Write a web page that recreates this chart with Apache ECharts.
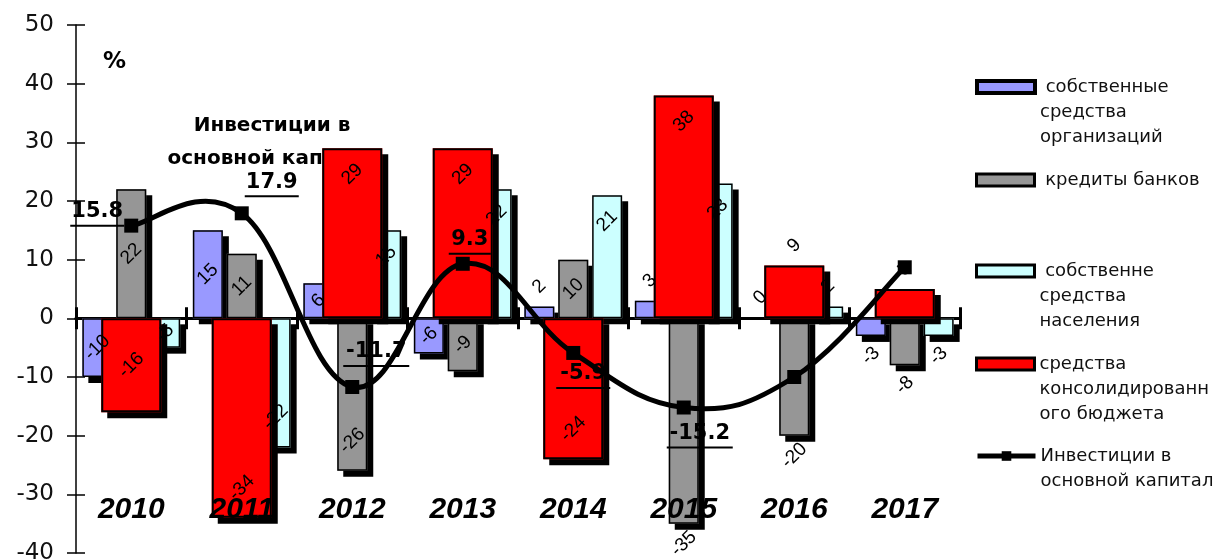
<!DOCTYPE html>
<html><head><meta charset="utf-8">
<script src="https://cdn.jsdelivr.net/npm/echarts@6/dist/echarts.min.js"></script>
<style>html,body{margin:0;padding:0;background:#fff}#c{width:1218px;height:560px}</style>
</head><body><div id="c"></div>
<script>
// ---- data ----
const years = ['2010','2011','2012','2013','2014','2015','2016','2017'];
const ownFunds        = [-10, 15,   6, -6,   2,   3,   0, -3];
const bankCredits     = [ 22, 11, -26, -9,  10, -35, -20, -8];
const populationFunds = [ -5,-22,  15, 22,  21,  23,   2, -3];
const budgetFunds     = [-16,-34,  29, 29, -24,  38,   9,  5];
const investment      = [15.8, 17.9, -11.7, 9.3, -5.9, -15.2, -10, 8.7];
const investLabelShown = [true, true, true, true, true, true, false, false];
const yMin = -40, yMax = 50, yStep = 10;

const nameOwn = ' собственные\nсредства\nорганизаций';
const nameCredit = ' кредиты банков';
const namePop = ' собственне\nсредства\nнаселения';
const nameBudget = 'средства\nконсолидированн\nого бюджета';
const nameInvest = 'Инвестиции в\nосновной капитал';

// ---- styling helpers ----
const FONT = 'Liberation Sans, Arial, sans-serif';
const WIDE = 'DejaVu Sans, sans-serif';
const ROT = 45;
const investLabelOffsets = [[-34,-12],[30,-29],[24,-33],[7,-22],[10,23],[16,28],[0,0],[0,0]];

// offset that moves a rotated label straight down by d pixels on screen
function vOff(d) {
  const t = ROT * Math.PI / 180;
  return [-d * Math.sin(t), d * Math.cos(t)];
}
function barLabel(v, mode) {
  if (mode === 'out') {
    return v >= 0 ? {position:['50%',0], offset:vOff(-20)} : {position:['50%','100%'], offset:vOff(20)};
  }
  if (mode === 'end') {
    return v >= 0 ? {position:['50%',0], offset:vOff(26)} : {position:['50%','100%'], offset:vOff(-30)};
  }
  return {position:'inside'};
}
function buildBarData(values, modeFn) {
  return values.map((v, i) => ({value: v, label: barLabel(v, modeFn(v, i))}));
}
const ownMode = (v) => Math.abs(v) < 5 ? 'out' : 'center';
const creditMode = (v, i) => (i >= 5 ? 'out' : (v <= -20 ? 'end' : 'center'));
const popMode = (v) => Math.abs(v) < 10 ? (Math.abs(v) < 4 ? 'out' : 'center') : 'end';
const budgetMode = (v) => Math.abs(v) < 10 ? 'out' : ((v > 0 || v <= -20) ? 'end' : 'center');

// fill layer (with hard shadow, no border)
function fillSeries(name, values, color, axis, width) {
  return {
    type: 'bar', name: name, xAxisIndex: axis, barWidth: width, barGap: '13%',
    data: values.slice(),
    itemStyle: {color: color, borderWidth: 0, shadowColor:'#000', shadowBlur:0, shadowOffsetX:6, shadowOffsetY:6},
    label: {show:false}, emphasis: {disabled:true}, silent: true
  };
}
// outline layer (border + labels, no shadow)
function outlineSeries(name, values, modeFn, axis, width, bw) {
  return {
    type: 'bar', name: name, xAxisIndex: axis, barWidth: width, barGap: '13%',
    data: buildBarData(values, modeFn),
    itemStyle: {color: 'rgba(0,0,0,0)', borderColor:'#000', borderWidth: bw},
    label: {show:true, rotate:ROT, fontSize:19, fontFamily:FONT, color:'#000', align:'center', verticalAlign:'middle'},
    emphasis: {disabled:true}
  };
}

const investData = investment.map((v, i) => {
  const txt = String(v);
  const d = {value: v};
  if (investLabelShown[i]) {
    d.label = {
      show: true, position: 'inside', offset: investLabelOffsets[i],
      formatter: '{v|' + txt + '}\n{u|}',
      rich: {
        v: {fontSize:21, fontWeight:'bold', fontFamily:WIDE, color:'#000', lineHeight:24, align:'center'},
        u: {width: txt.length*12+6, height:2, backgroundColor:'#000', lineHeight:4, align:'center'}
      }
    };
  } else {
    d.label = {show:false};
  }
  return d;
});

function legendFor(name, centerY, lines, extra) {
  const lh = 25;
  const h = (2*lines-1)*lh;
  const pre = '\n'.repeat(lines-1);
  return {
    left: 975, top: centerY - h/2, padding: 0, itemWidth: 58, itemHeight: 12,
    selectedMode: false,
    data: [Object.assign({name: name}, extra)],
    formatter: (n) => pre + n,
    textStyle: {fontFamily: WIDE, fontSize: 18, color:'#111', lineHeight: lh}
  };
}

function hiddenX() {
  return {type:'category', data: years, show:false};
}
function zeroAxis(pos) {
  return {
    type: 'category', data: years, position: pos,
    axisLine: {show:true, onZero: true, lineStyle: {color:'#000', width:3}},
    axisTick: {show:true, length:11, lineStyle:{color:'#000', width:3}},
    axisLabel: {show:false},
    splitLine: {show:false}
  };
}

// Excel-like smoothed curve through the investment points (Catmull-Rom style bezier)
function renderCurve(params, api) {
  if (params.dataIndex !== 0) return null;
  const pts = investment.map((v, i) => api.coord([i, v]));
  const k = 0.2;
  let d = 'M' + pts[0][0] + ',' + pts[0][1];
  for (let i = 0; i < pts.length - 1; i++) {
    const p0 = pts[Math.max(i - 1, 0)], p1 = pts[i], p2 = pts[i + 1], p3 = pts[Math.min(i + 2, pts.length - 1)];
    const c1 = [p1[0] + (p2[0] - p0[0]) * k, p1[1] + (p2[1] - p0[1]) * k];
    const c2 = [p2[0] - (p3[0] - p1[0]) * k, p2[1] - (p3[1] - p1[1]) * k];
    d += ' C' + c1[0] + ',' + c1[1] + ' ' + c2[0] + ',' + c2[1] + ' ' + p2[0] + ',' + p2[1];
  }
  return {type:'path', shape:{pathData:d}, style:{fill:'none', stroke:'#000', lineWidth:5, lineJoin:'round'}, silent:true};
}

const chart = echarts.init(document.getElementById('c'));
chart.setOption({
  animation: false,
  backgroundColor: '#fff',
  grid: {left: 76, right: 258, top: 25, bottom: 7, outerBoundsMode: 'none', containLabel: false},
  xAxis: [{
    type: 'category', data: years, position: 'bottom', z: 5,
    axisLine: {show:false, onZero: false},
    axisTick: {show:false},
    axisLabel: {show:true, inside:true, margin: 28, fontSize: 30, fontWeight:'bold', fontStyle:'italic', fontFamily: FONT, color:'#000'},
    splitLine: {show:false}
  }, zeroAxis('top'), zeroAxis('bottom'), hiddenX(), hiddenX()],
  yAxis: [{
    type: 'value', min: yMin, max: yMax, interval: yStep,
    axisLine: {show:true, onZero:false, lineStyle:{color:'#000', width:1.5}},
    axisTick: {show:true, length:9, lineStyle:{color:'#000', width:1.5}},
    axisLabel: {margin: 22, fontSize: 23, fontFamily: WIDE, color:'#111'},
    splitLine: {show:false}
  }, {
    type: 'value', min: yMin, max: yMax, interval: yStep, position:'left',
    axisLine: {show:false, onZero:false},
    axisTick: {show:true, inside:true, length:9, lineStyle:{color:'#000', width:1.5}},
    axisLabel: {show:false},
    splitLine: {show:false}
  }],
  legend: [
    legendFor(nameOwn, 87, 3, {icon:'rect', itemStyle:{color:'#9999FF', borderColor:'#000', borderWidth:4}}),
    legendFor(nameCredit, 180, 1, {icon:'rect', itemStyle:{color:'#969696', borderColor:'#000', borderWidth:3}}),
    legendFor(namePop, 271, 3, {icon:'rect', itemStyle:{color:'#CCFFFF', borderColor:'#000', borderWidth:3}}),
    legendFor(nameBudget, 364, 3, {icon:'rect', itemStyle:{color:'#FF0000', borderColor:'#000', borderWidth:3}}),
    legendFor(nameInvest, 456, 2, {lineStyle:{width:5, color:'#000', opacity:1}})
  ],
  graphic: [
    {type:'text', x:272, y:109, z:0, style:{text:'Инвестиции в\nосновной капитал', font:'bold 20px ' + WIDE, textAlign:'center', lineHeight:33, fill:'#000'}},
    {type:'text', x:103, y:51, z:0, style:{text:'%', font:'bold 23px ' + WIDE, fill:'#000'}}
  ],
  series: [
    fillSeries(nameOwn, ownFunds, '#9999FF', 0, 30),
    fillSeries(nameCredit, bankCredits, '#969696', 0, 30),
    fillSeries(namePop, populationFunds, '#CCFFFF', 0, 30),
    outlineSeries('o1', ownFunds, ownMode, 3, 30, 1.5),
    outlineSeries('o2', bankCredits, creditMode, 3, 30, 1.5),
    outlineSeries('o3', populationFunds, popMode, 3, 30, 1.5),
    fillSeries(nameBudget, budgetFunds, '#FF0000', 1, 60),
    outlineSeries('o4', budgetFunds, budgetMode, 4, 60, 2),
    {
      name: 'curve', type: 'custom', xAxisIndex: 0, yAxisIndex: 0, z: 3, silent: true,
      data: investment.map((v, i) => [i, v]),
      renderItem: renderCurve
    },
    {
      name: nameInvest, type: 'line', xAxisIndex:0, z: 4,
      symbol: 'rect', symbolSize: 14,
      lineStyle: {color:'#000', width:0, opacity:0},
      itemStyle: {color:'#000'},
      emphasis: {disabled:true},
      data: investData
    }
  ]
});
</script></body></html>
